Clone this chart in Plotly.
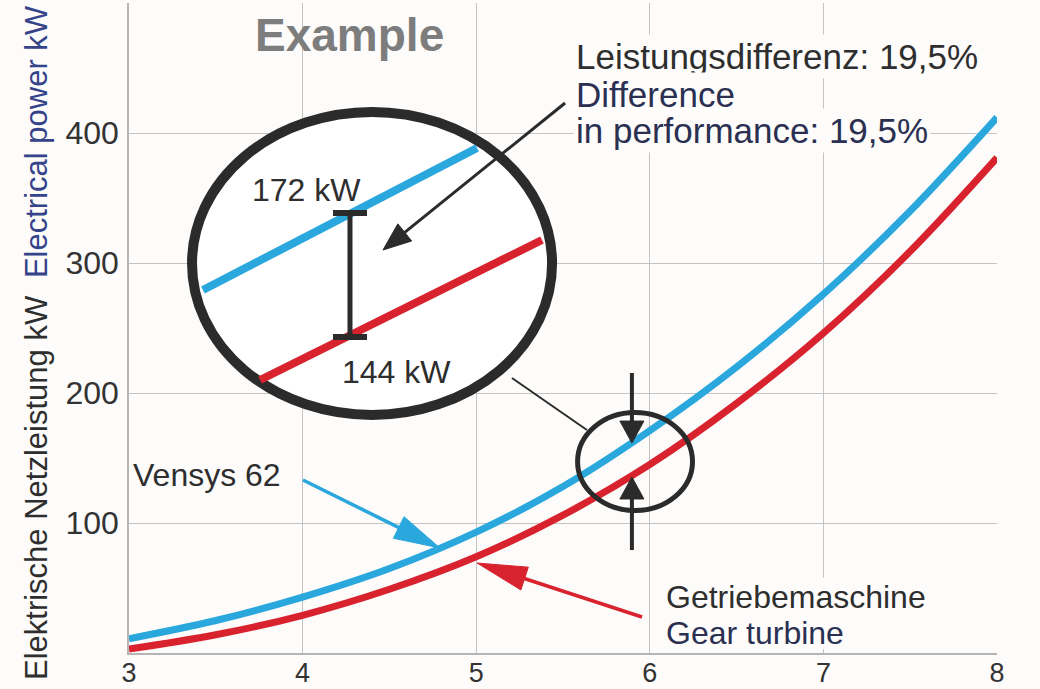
import math
import plotly.graph_objects as go

# ---------------- data ----------------
wind_speed = [3, 3.5, 4, 4.5, 5, 5.5, 6, 6.5, 7, 7.5, 8]
vensys_kw = [11, 25, 43, 65, 93, 128, 171, 220, 276, 340, 412]
gear_kw = [3, 14, 29, 49, 74, 106, 145, 192, 246, 309, 381]
x_ticks = [3, 4, 5, 6, 7, 8]
y_ticks = [100, 200, 300, 400]

# ---------------- layout constants ----------------
W, H = 1040, 689
M = dict(l=129, r=43, t=3, b=36)
X_RANGE = [3, 8]
Y_RANGE = [0, 500]
PX_X = (W - M["l"] - M["r"]) / (X_RANGE[1] - X_RANGE[0])
PX_Y = (H - M["t"] - M["b"]) / (Y_RANGE[1] - Y_RANGE[0])

BLUE = "#2aa7dc"
RED = "#d8232f"
DARK = "#2b2b2b"
TXT = "#2e2e2e"
NAVY = "#2b3052"
BG = "#fdfcfa"
FONT = "Liberation Sans, Arial, sans-serif"

fig = go.Figure()
fig.add_trace(go.Scatter(x=wind_speed, y=gear_kw, mode="lines", name="Getriebemaschine",
                         line=dict(color=RED, width=7, shape="spline", smoothing=1.0)))
fig.add_trace(go.Scatter(x=wind_speed, y=vensys_kw, mode="lines", name="Vensys 62",
                         line=dict(color=BLUE, width=7, shape="spline", smoothing=1.0)))

shapes = []


def seg(p0, p1, color, width):
    shapes.append(dict(type="line", xref="x", yref="y", x0=p0[0], y0=p0[1], x1=p1[0], y1=p1[1],
                       line=dict(color=color, width=width)))


def arrow(tail, tip, color, width, head_len, half_w):
    dx = (tip[0] - tail[0]) * PX_X
    dy = (tip[1] - tail[1]) * PX_Y
    n = math.hypot(dx, dy)
    ux, uy = dx / n, dy / n
    bx, by = -ux * head_len, -uy * head_len
    nx, ny = -uy * half_w, ux * half_w
    base = (tip[0] + bx * 0.8 / PX_X, tip[1] + by * 0.8 / PX_Y)
    seg(tail, base, color, width)
    p1 = (tip[0] + (bx + nx) / PX_X, tip[1] + (by + ny) / PX_Y)
    p2 = (tip[0] + (bx - nx) / PX_X, tip[1] + (by - ny) / PX_Y)
    path = f"M {tip[0]},{tip[1]} L {p1[0]},{p1[1]} L {p2[0]},{p2[1]} Z"
    shapes.append(dict(type="path", xref="x", yref="y", path=path,
                       fillcolor=color, line=dict(color=color, width=1)))


# background patch that hides the grid behind the bottom-right label
shapes.append(dict(type="rect", xref="x", yref="y", x0=6.07, x1=7.3, y0=3, y1=58,
                   fillcolor=BG, line=dict(width=0), layer="above"))
# magnifier (big ellipse, white inside)
shapes.append(dict(type="circle", xref="x", yref="y", x0=3.363, x1=5.437, y0=183.1, y1=416.2,
                   fillcolor="white", line=dict(color=DARK, width=10)))
# magnified curve pieces
seg((3.426, 279.2), (5.005, 388.5), BLUE, 8)
seg((3.755, 210.0), (5.379, 317.7), RED, 8)
# I-beam between them
seg((4.273, 243.1), (4.273, 338.5), DARK, 5)
seg((4.175, 338.5), (4.371, 338.5), DARK, 6)
seg((4.175, 243.1), (4.371, 243.1), DARK, 6)
# arrow from text into the magnifier
arrow((5.512, 423.1), (4.463, 310.0), DARK, 3, 28, 11)
# connector magnifier -> small circle
seg((5.206, 211.5), (5.638, 171.5), DARK, 2)
# small circle on the curves
shapes.append(dict(type="circle", xref="x", yref="y", x0=5.584, x1=6.246, y0=109.6, y1=185.0,
                   line=dict(color=DARK, width=5)))
# pinch arrows
arrow((5.897, 215.4), (5.897, 161.5), DARK, 4, 22, 12)
arrow((5.897, 79.2), (5.897, 135.4), DARK, 4, 22, 12)
# leader arrows
arrow((4.002, 133.1), (4.791, 80.8), BLUE, 3.5, 46, 12)
arrow((5.955, 27.7), (5.005, 69.2), RED, 3.5, 50, 12)

annotations = []


def text(s, x, y, size=34, color=TXT, xanchor="left", bold=False, bg=None):
    a = dict(text=f"<b>{s}</b>" if bold else s, x=x, y=y, xref="x", yref="y",
             xanchor=xanchor, yanchor="middle", showarrow=False,
             font=dict(family=FONT, size=size, color=color))
    if bg:
        a["bgcolor"] = bg
        a["borderpad"] = 2
    annotations.append(a)


text("Example", 4.273, 475.4, size=46, color="#7d7d7d", xanchor="center", bold=True)
text("Leistungsdifferenz: 19,5%", 5.555, 459.2, size=35, bg=BG)
text("Difference", 5.555, 430.0, size=35, color=NAVY, bg=BG)
text("in performance: 19,5%", 5.555, 402.3, size=35, color=NAVY, bg=BG)
text("172 kW", 4.02, 356.2, size=32, xanchor="center")
text("144 kW", 4.538, 216.2, size=32, xanchor="center")
text("Vensys 62", 3.01, 136.9, size=32)
text("Getriebemaschine", 6.08, 43.3, size=32)
text("Gear turbine", 6.08, 15.4, size=32, color=NAVY)

# y-axis titles (two colours, rotated)
ax_x = (36 - M["l"]) / (W - M["l"] - M["r"])
annotations.append(dict(text="Elektrische Netzleistung kW", xref="paper", yref="y", x=ax_x, y=126.9,
                        textangle=-90, showarrow=False, xanchor="center", yanchor="middle",
                        font=dict(family=FONT, size=31, color=TXT)))
annotations.append(dict(text="Electrical power kW", xref="paper", yref="y", x=ax_x, y=393.0,
                        textangle=-90, showarrow=False, xanchor="center", yanchor="middle",
                        font=dict(family=FONT, size=31, color="#35438a")))

fig.update_layout(
    width=W, height=H, margin=dict(M, autoexpand=False), showlegend=False,
    paper_bgcolor=BG, plot_bgcolor=BG,
    shapes=shapes, annotations=annotations,
    font=dict(family=FONT, size=31, color="#333333"),
)
fig.update_xaxes(range=X_RANGE, tickvals=x_ticks, ticktext=[str(v) for v in x_ticks],
                 showgrid=True, gridcolor="#c4c4c4", gridwidth=1, zeroline=False,
                 showline=True, linecolor="#b5b5b5", linewidth=1.5, automargin=False,
                 ticks="", ticklabelstandoff=-5, tickfont=dict(size=27, color="#333333"))
fig.update_yaxes(range=Y_RANGE, tickvals=y_ticks, ticktext=[str(v) for v in y_ticks],
                 showgrid=True, gridcolor="#c4c4c4", gridwidth=1, zeroline=False,
                 showline=True, linecolor="#b5b5b5", linewidth=1.5, automargin=False,
                 ticks="", ticklabelstandoff=2, tickfont=dict(size=32, color="#333333"))

fig.write_html("out.html", config={"displayModeBar": False},
               post_script="document.body.style.margin='0px';document.body.style.overflow='hidden';")
